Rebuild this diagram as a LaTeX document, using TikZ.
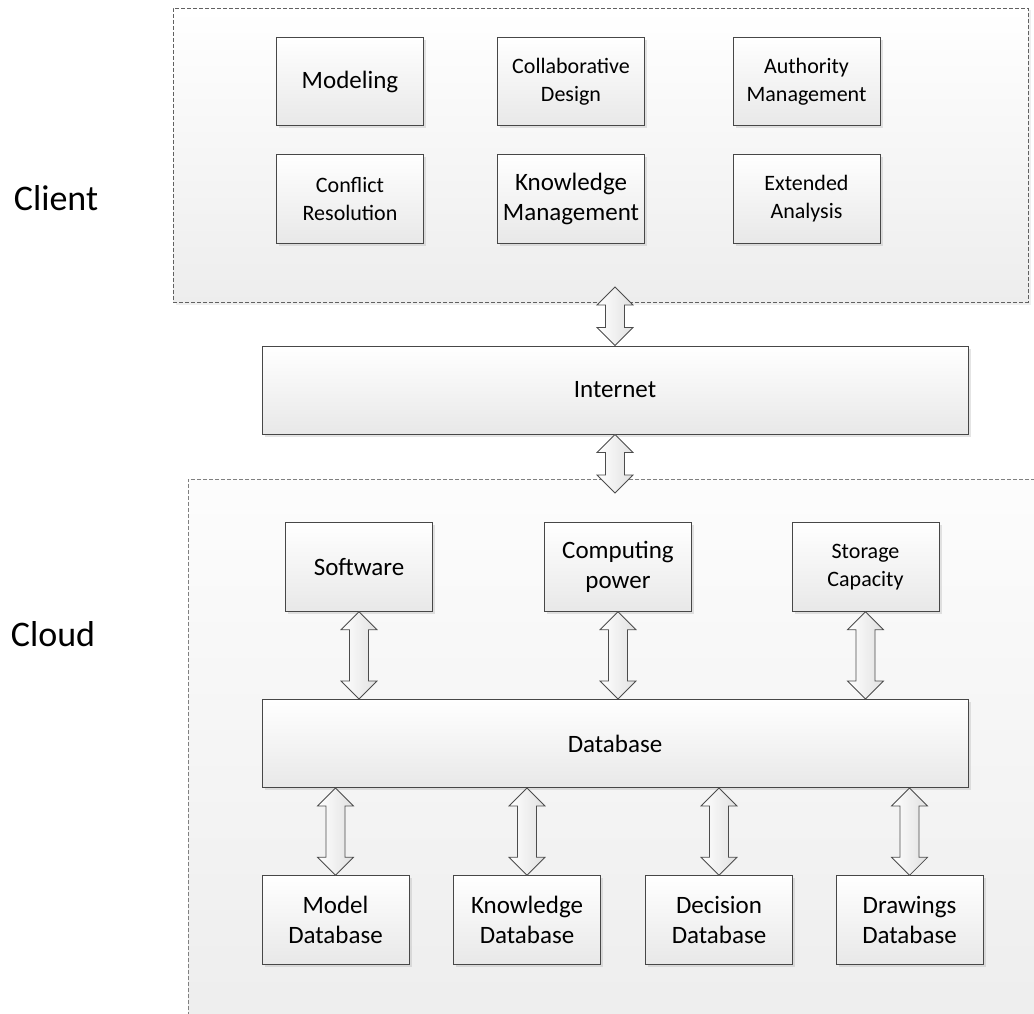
\documentclass[tikz,border=0pt]{standalone}
\usepackage{fontspec}
\setmainfont{Carlito}
\usetikzlibrary{calc,shadows}
\tikzset{
  box/.style={draw=black!72, line width=0.9pt, top color=white, bottom color=black!9,
    minimum width=147pt, minimum height=88.5pt, align=center, inner sep=0pt,
    drop shadow={shadow xshift=2.5pt, shadow yshift=-2.5pt, opacity=0.3, fill=black!35}},
  widebox/.style={box, minimum width=706pt, minimum height=88pt},
  bigtext/.style={font=\fontsize{25}{30}\selectfont},
  smalltext/.style={font=\fontsize{22}{28}\selectfont},
  container/.style={draw=black!62, dash pattern=on 4pt off 2pt, line width=0.8pt,
    inner sep=0pt, top color=white, bottom color=black!7,
    drop shadow={shadow xshift=2.5pt, shadow yshift=-2.5pt, opacity=0.2, fill=black!30}},
  sidelabel/.style={font=\fontsize{36}{40}\selectfont, inner sep=0pt},
  barrow/.style={draw=black!70, line width=0.8pt, left color=white, right color=black!12, line join=miter},
}
\newcommand\dblarr[2]{%
  \path[barrow] let \p1=(#1), \p2=(#2) in
    (\x1,\y1) -- (\x1+18pt,\y1-18pt) -- (\x1+9.5pt,\y1-18pt) -- (\x1+9.5pt,\y2+18pt)
    -- (\x1+18pt,\y2+18pt) -- (\x1,\y2) -- (\x1-18pt,\y2+18pt) -- (\x1-9.5pt,\y2+18pt)
    -- (\x1-9.5pt,\y1-18pt) -- (\x1-18pt,\y1-18pt) -- cycle;}
\begin{document}
\begin{tikzpicture}[x=1pt,y=-1pt]
  \useasboundingbox (0,0) rectangle (1034,1014);
  \clip (0,0) rectangle (1034,1014);
  \fill[white] (0,0) rectangle (1034,1014);

  % containers
  \node[container, minimum width=855pt, minimum height=294pt] (client) at (600.5,155) {};
  \node[container, top color=black!1, bottom color=black!7, draw=black!50,
        minimum width=862pt, minimum height=551pt] (cloud) at (619,754.5) {};

  % side labels
  \node[sidelabel] (clientlbl) at (56,198) {Client};
  \node[sidelabel] (cloudlbl) at (53,634) {Cloud};

  % client boxes
  \node[box, bigtext]   (model)  at (350,81.5)  {Modeling};
  \node[box, smalltext] (collab) at (571,81.5)  {Collaborative\\Design};
  \node[box, smalltext] (auth)   at (806.5,81.5){Authority\\Management};
  \node[box, smalltext] (confl)  at (350,199)   {Conflict\\Resolution};
  \node[box, bigtext]   (know)   at (571,199)   {Knowledge\\Management};
  \node[box, smalltext] (ext)    at (806.5,199) {Extended\\Analysis};

  % internet
  \node[widebox, bigtext] (inet) at (615,390) {Internet};

  % cloud boxes
  \node[box, bigtext]   (sw)   at (359,567)   {Software};
  \node[box, bigtext]   (cp)   at (618,567)   {Computing\\power};
  \node[box, smalltext] (st)   at (865.5,567) {Storage\\Capacity};
  \node[widebox, bigtext] (db) at (615,743.5) {Database};
  \node[box, bigtext] (mdb)  at (335.5,920) {Model\\Database};
  \node[box, bigtext] (kdb)  at (527,920)   {Knowledge\\Database};
  \node[box, bigtext] (ddb)  at (719,920)   {Decision\\Database};
  \node[box, bigtext] (drdb) at (909.5,920) {Drawings\\Database};

  % connectors
  \coordinate (clientport) at (615,287);
  \coordinate (cloudport)  at (615,493);
  \dblarr{clientport}{inet.north}
  \dblarr{inet.south}{cloudport}
  \dblarr{sw.south}{sw.south |- db.north}
  \dblarr{cp.south}{cp.south |- db.north}
  \dblarr{st.south}{st.south |- db.north}
  \dblarr{mdb.north |- db.south}{mdb.north}
  \dblarr{kdb.north |- db.south}{kdb.north}
  \dblarr{ddb.north |- db.south}{ddb.north}
  \dblarr{drdb.north |- db.south}{drdb.north}
\end{tikzpicture}
\end{document}
